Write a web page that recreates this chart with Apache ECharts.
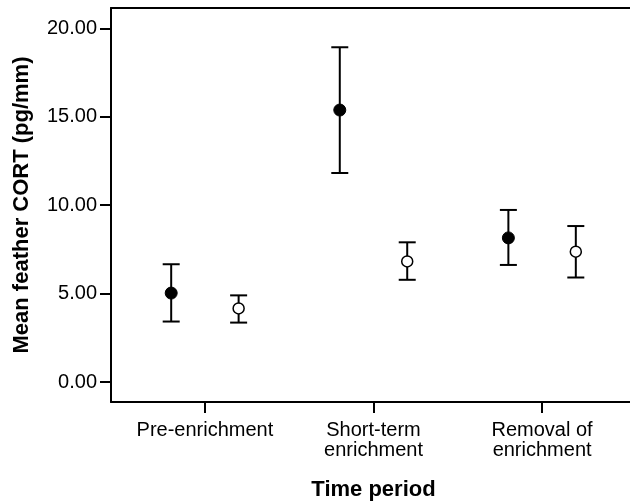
<!DOCTYPE html>
<html>
<head>
<meta charset="utf-8">
<script src="https://cdn.jsdelivr.net/npm/echarts@6/dist/echarts.min.js"></script>
<style>
  html, body { margin: 0; padding: 0; background: #fff; }
  #chart { width: 630px; height: 501px; }
</style>
</head>
<body>
<div id="chart"></div>
<script>
// time periods (x categories)
var categories = ['Pre-enrichment', 'Short-term\nenrichment', 'Removal of\nenrichment'];
// filled circles: mean and error bar ends
var filledMean = [5.03, 15.38, 8.15];
var filledLow  = [3.42, 11.82, 6.62];
var filledHigh = [6.66, 18.93, 9.73];
// open circles: mean and error bar ends
var openMean = [4.16, 6.82, 7.37];
var openLow  = [3.36, 5.78, 5.91];
var openHigh = [4.90, 7.90, 8.82];
// y tick labels
var yTicks = [0, 5, 10, 15, 20];

var font = '"Liberation Sans", Arial, sans-serif';
var shift = 0.2; // side-by-side offset of the two groups

var xPos = categories.map(function (c, i) { return i + 1; });

function points(mean, off) {
  return mean.map(function (v, i) { return [xPos[i] + off, v]; });
}
function bars(low, high, off) {
  return low.map(function (v, i) { return [xPos[i] + off, v, high[i]]; });
}

function renderBar(params, api) {
  var x = api.value(0);
  var lo = api.coord([x, api.value(1)]);
  var hi = api.coord([x, api.value(2)]);
  var w = 8.5;
  var st = { stroke: '#000', lineWidth: 2 };
  return {
    type: 'group',
    children: [
      { type: 'line', shape: { x1: lo[0], y1: lo[1], x2: hi[0], y2: hi[1] }, style: st },
      { type: 'line', shape: { x1: lo[0] - w, y1: lo[1], x2: lo[0] + w, y2: lo[1] }, style: st },
      { type: 'line', shape: { x1: hi[0] - w, y1: hi[1], x2: hi[0] + w, y2: hi[1] }, style: st }
    ]
  };
}

var chart = echarts.init(document.getElementById('chart'));
chart.setOption({
  backgroundColor: '#fff',
  animation: false,
  grid: { left: 111, right: -6, top: 8, bottom: 99, containLabel: false, outerBoundsMode: 'none' },
  xAxis: [
    {
      type: 'value',
      min: 0.443,
      max: 3.557,
      name: 'Time period',
      nameLocation: 'middle',
      nameGap: 77,
      nameTextStyle: { fontFamily: font, fontSize: 22, fontWeight: 'bold', color: '#000' },
      splitLine: { show: false },
      axisLine: { onZero: false, lineStyle: { color: '#000', width: 2 } },
      axisTick: { customValues: xPos, length: 11, lineStyle: { color: '#000', width: 2 } },
      axisLabel: {
        customValues: xPos,
        margin: 18,
        fontFamily: font,
        fontSize: 20,
        lineHeight: 20,
        color: '#000',
        formatter: function (v) { return categories[Math.round(v) - 1]; }
      }
    },
    {
      type: 'value',
      position: 'top',
      min: 0.443,
      max: 3.557,
      splitLine: { show: false },
      axisLine: { show: true, onZero: false, lineStyle: { color: '#000', width: 2 } },
      axisTick: { show: false },
      axisLabel: { show: false }
    }
  ],
  yAxis: {
    type: 'value',
    min: -1.13,
    max: 21.15,
    name: 'Mean feather CORT (pg/mm)',
    nameLocation: 'middle',
    nameGap: 78,
    nameTextStyle: { fontFamily: font, fontSize: 22, fontWeight: 'bold', color: '#000' },
    splitLine: { show: false },
    axisLine: { show: true, onZero: false, lineStyle: { color: '#000', width: 2 } },
    axisTick: { customValues: yTicks, length: 11, lineStyle: { color: '#000', width: 2 } },
    axisLabel: {
      customValues: yTicks,
      margin: 14,
      fontFamily: font,
      fontSize: 20,
      color: '#000',
      formatter: function (v) { return v.toFixed(2); }
    }
  },
  series: [
    {
      type: 'custom',
      renderItem: renderBar,
      data: bars(filledLow, filledHigh, -shift),
      encode: { x: 0, y: [1, 2] },
      z: 2
    },
    {
      type: 'custom',
      renderItem: renderBar,
      data: bars(openLow, openHigh, shift),
      encode: { x: 0, y: [1, 2] },
      z: 2
    },
    {
      type: 'scatter',
      data: points(filledMean, -shift),
      symbol: 'circle',
      symbolSize: 12,
      itemStyle: { color: '#000', borderColor: '#000', borderWidth: 1, opacity: 1 },
      z: 5
    },
    {
      type: 'scatter',
      data: points(openMean, shift),
      symbol: 'circle',
      symbolSize: 11,
      itemStyle: { color: '#fff', borderColor: '#000', borderWidth: 1.5, opacity: 1 },
      z: 5
    }
  ]
});
</script>
</body>
</html>
